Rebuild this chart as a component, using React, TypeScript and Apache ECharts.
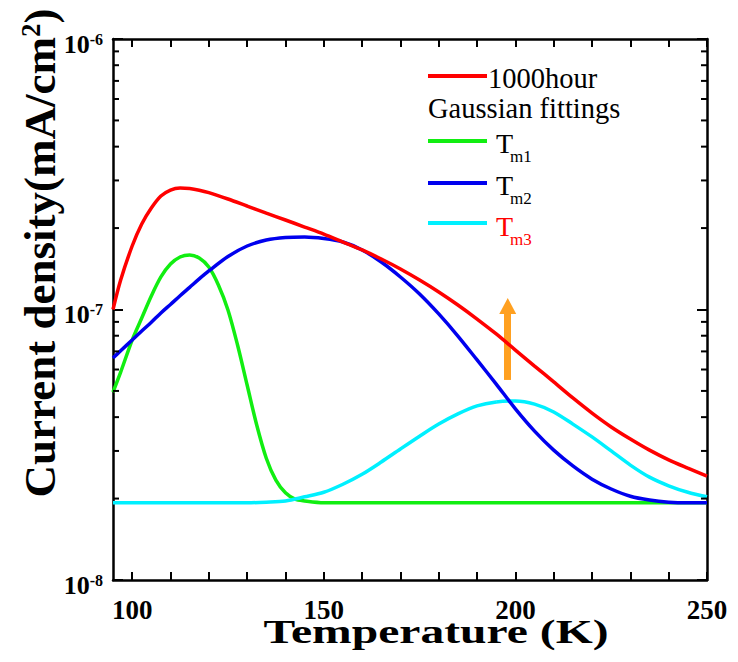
import React, { useEffect, useRef } from 'react';
import * as echarts from 'echarts';

const FONT = '"Liberation Serif", "Times New Roman", serif';

// Temperature grid (K) used by the measured curve and two of the fits
const tempMain = [95, 97, 100, 102.5, 105, 107.5, 110, 112.5, 115, 117.5, 120, 125, 130, 135, 140, 145, 150, 155, 160, 165, 170, 175, 180, 185, 190, 195, 200, 205, 210, 215, 220, 225, 230, 235, 240, 245, 250];

// 1000hour measured current density (mA/cm^2)
const current1000h = [1.0e-7, 1.285e-7, 1.717e-7, 2.071e-7, 2.372e-7, 2.628e-7, 2.765e-7, 2.813e-7, 2.80e-7, 2.761e-7, 2.704e-7, 2.561e-7, 2.413e-7, 2.273e-7, 2.142e-7, 2.018e-7, 1.901e-7, 1.776e-7, 1.66e-7, 1.537e-7, 1.412e-7, 1.285e-7, 1.161e-7, 1.039e-7, 9.22e-8, 8.12e-8, 7.08e-8, 6.18e-8, 5.40e-8, 4.71e-8, 4.14e-8, 3.68e-8, 3.32e-8, 3.02e-8, 2.78e-8, 2.59e-8, 2.42e-8];

// Gaussian fit Tm2
const fitTm2 = [6.62e-8, 7.04e-8, 7.71e-8, 8.33e-8, 8.97e-8, 9.71e-8, 1.044e-7, 1.124e-7, 1.207e-7, 1.297e-7, 1.388e-7, 1.57e-7, 1.717e-7, 1.806e-7, 1.846e-7, 1.854e-7, 1.83e-7, 1.776e-7, 1.66e-7, 1.498e-7, 1.319e-7, 1.141e-7, 9.63e-8, 7.98e-8, 6.51e-8, 5.30e-8, 4.29e-8, 3.55e-8, 3.02e-8, 2.64e-8, 2.36e-8, 2.17e-8, 2.04e-8, 1.975e-8, 1.94e-8, 1.93e-8, 1.93e-8];

// Gaussian fit Tm3
const fitTm3 = [1.93e-8, 1.93e-8, 1.93e-8, 1.93e-8, 1.93e-8, 1.93e-8, 1.93e-8, 1.93e-8, 1.93e-8, 1.93e-8, 1.93e-8, 1.93e-8, 1.93e-8, 1.94e-8, 1.96e-8, 2.03e-8, 2.11e-8, 2.26e-8, 2.46e-8, 2.73e-8, 3.05e-8, 3.40e-8, 3.77e-8, 4.11e-8, 4.40e-8, 4.55e-8, 4.59e-8, 4.47e-8, 4.18e-8, 3.77e-8, 3.38e-8, 3.00e-8, 2.66e-8, 2.40e-8, 2.23e-8, 2.11e-8, 2.03e-8];

// Gaussian fit Tm1 (own temperature grid)
const tempTm1 = [95, 97, 100, 102.5, 105, 107.5, 110, 112.5, 115, 117.5, 120, 122.5, 125, 127.5, 130, 132.5, 135, 137.5, 140, 142.5, 145, 150, 160, 180, 200, 220, 250];
const fitTm1 = [4.95e-8, 5.87e-8, 7.71e-8, 9.30e-8, 1.122e-7, 1.319e-7, 1.473e-7, 1.564e-7, 1.591e-7, 1.55e-7, 1.436e-7, 1.232e-7, 9.96e-8, 7.39e-8, 5.26e-8, 3.74e-8, 2.82e-8, 2.34e-8, 2.10e-8, 1.99e-8, 1.96e-8, 1.93e-8, 1.93e-8, 1.93e-8, 1.93e-8, 1.93e-8, 1.93e-8];

// Axis ticks
const xTickValues = [100, 110, 120, 130, 140, 150, 160, 170, 180, 190, 200, 210, 220, 230, 240, 250];
const xLabelValues = [100, 150, 200, 250];
const yMinorTicks = [2e-8, 3e-8, 4e-8, 5e-8, 6e-8, 7e-8, 8e-8, 9e-8, 2e-7, 3e-7, 4e-7, 5e-7, 6e-7, 7e-7, 8e-7, 9e-7];

// Orange arrow (T, start value, end value)
const arrowT = 198;
const arrowFrom = 5.49e-8;
const arrowTo = 1.03e-7;

const RED = '#ff0000';
const GREEN = '#11ee11';
const BLUE = '#0000ee';
const CYAN = '#00f0ff';
const ORANGE = '#ffa020';

export default function App() {
  const ref = useRef<HTMLDivElement>(null);

  useEffect(() => {
    const chart = echarts.init(ref.current!, null, { renderer: 'svg' });
    const zip = (xs: number[], ys: number[]) => xs.map((x, i) => [x, ys[i]]);
    const lineSeries = (name: string, xs: number[], ys: number[], color: string, z: number, extra: any = {}) => ({
      type: 'line',
      name,
      data: zip(xs, ys),
      showSymbol: false,
      symbol: 'none',
      smooth: 0.3,
      lineStyle: { color, width: 3.5 },
      itemStyle: { color },
      z,
      silent: true,
      ...extra,
    });

    const axisLineStyle = { color: '#000', width: 2.5 };
    const tickStyle = { color: '#000', width: 2 };

    const legendRow = (y: number, color: string) => ({
      type: 'line',
      shape: { x1: 428, y1: y, x2: 487, y2: y },
      style: { stroke: color, lineWidth: 4 },
    });
    const plainText = (x: number, y: number, text: string, size: number, color: string) => ({
      type: 'text',
      x,
      y,
      style: { text, fill: color, fontSize: size, fontFamily: FONT, align: 'left', verticalAlign: 'middle' },
    });
    // T with subscript: baseline of T at b, subscript baseline 9px lower
    const tmLabel = (b: number, sub: string, color: string) => [
      plainText(496, b - 0.3375 * 28, 'T', 28, color),
      plainText(510, b + 9 - 0.3375 * 17, sub, 17, color),
    ];

    chart.setOption({
      animation: false,
      backgroundColor: '#fff',
      grid: { left: 113, right: 31, top: 39, bottom: 82, containLabel: false },
      xAxis: [
        {
          type: 'value',
          min: 95,
          max: 250,
          position: 'bottom',
          axisLine: { show: true, onZero: false, lineStyle: axisLineStyle },
          axisTick: { show: true, inside: true, length: 8, lineStyle: tickStyle, customValues: xTickValues },
          axisLabel: {
            show: true,
            customValues: xLabelValues,
            margin: 16,
            color: '#000',
            fontSize: 27,
            fontWeight: 'bold',
            fontFamily: FONT,
          },
          splitLine: { show: false },
        },
        {
          type: 'value',
          min: 95,
          max: 250,
          position: 'top',
          axisLine: { show: true, onZero: false, lineStyle: axisLineStyle },
          axisTick: { show: true, inside: true, length: 8, lineStyle: tickStyle, customValues: xTickValues },
          axisLabel: { show: false },
          splitLine: { show: false },
        },
      ],
      yAxis: [
        {
          type: 'log',
          logBase: 10,
          min: 1e-8,
          max: 1e-6,
          position: 'left',
          axisLine: { show: true, onZero: false, lineStyle: axisLineStyle },
          axisTick: { show: true, inside: true, length: 10, lineStyle: tickStyle },
          axisLabel: {
            show: true,
            margin: 10,
            color: '#000',
            padding: [10, 0, 0, 0],
            formatter: (v: number) => `{b|10}{s|${Math.round(Math.log10(v))}}`,
            rich: {
              b: { fontSize: 26, fontWeight: 'bold', fontFamily: FONT, color: '#000', lineHeight: 26, verticalAlign: 'bottom' },
              s: { fontSize: 16, fontWeight: 'bold', fontFamily: FONT, color: '#000', lineHeight: 16, verticalAlign: 'top' },
            },
          },
          splitLine: { show: false },
        },
        {
          type: 'log',
          logBase: 10,
          min: 1e-8,
          max: 1e-6,
          position: 'right',
          axisLine: { show: true, onZero: false, lineStyle: axisLineStyle },
          axisTick: { show: true, inside: true, length: 10, lineStyle: tickStyle },
          axisLabel: { show: false },
          splitLine: { show: false },
        },
      ],
      series: [
        lineSeries('Tm1', tempTm1, fitTm1, GREEN, 2),
        lineSeries('Tm3', tempMain, fitTm3, CYAN, 3),
        lineSeries('Tm2', tempMain, fitTm2, BLUE, 4),
        lineSeries('1000hour', tempMain, current1000h, RED, 5, {
          markLine: {
            silent: true,
            symbol: ['none', 'triangle'],
            symbolSize: [17, 16],
            lineStyle: { color: ORANGE, width: 7, type: 'solid' },
            itemStyle: { color: ORANGE },
            label: { show: false },
            emphasis: { disabled: true },
            data: [[{ coord: [arrowT, arrowFrom] }, { coord: [arrowT, arrowTo] }]],
          },
        }),
        {
          type: 'custom',
          name: 'minorTicks',
          silent: true,
          clip: false,
          z: 10,
          data: yMinorTicks.map((v) => [95, v]),
          encode: { x: 0, y: 1 },
          renderItem: (params: any, api: any) => {
            const p = api.coord([api.value(0), api.value(1)]);
            const cs = params.coordSys;
            return {
              type: 'group',
              children: [
                { type: 'line', shape: { x1: cs.x, y1: p[1], x2: cs.x + 6, y2: p[1] }, style: { stroke: '#000', lineWidth: 2 } },
                { type: 'line', shape: { x1: cs.x + cs.width - 6, y1: p[1], x2: cs.x + cs.width, y2: p[1] }, style: { stroke: '#000', lineWidth: 2 } },
              ],
            };
          },
        },
      ],
      graphic: [
        {
          type: 'text',
          x: 40,
          y: 253,
          rotation: Math.PI / 2,
          style: {
            text: 'Current density(mA/cm{s|2})',
            fill: '#000',
            fontSize: 45,
            fontWeight: 'bold',
            fontFamily: FONT,
            align: 'center',
            verticalAlign: 'middle',
            rich: { s: { fontSize: 27, fontWeight: 'bold', fontFamily: FONT, fill: '#000', verticalAlign: 'top' } },
          },
        },
        {
          type: 'text',
          x: 436,
          y: 631,
          scaleX: 1.4,
          style: {
            text: 'Temperature (K)',
            fill: '#000',
            fontSize: 34,
            fontWeight: 'bold',
            fontFamily: FONT,
            align: 'center',
            verticalAlign: 'middle',
          },
        },
        legendRow(76, RED),
        plainText(488, 88 - 0.3375 * 28.5, '1000hour', 28.5, '#000'),
        plainText(428, 118 - 0.3375 * 28.5, 'Gaussian fittings', 28.5, '#000'),
        legendRow(141, GREEN),
        ...tmLabel(153, 'm1', '#000'),
        legendRow(183, BLUE),
        ...tmLabel(195, 'm2', '#000'),
        legendRow(223, CYAN),
        ...tmLabel(236, 'm3', RED),
      ],
    });

    return () => chart.dispose();
  }, []);

  return <div ref={ref} style={{ position: 'fixed', left: 0, top: 0, width: 738, height: 662 }} />;
}
